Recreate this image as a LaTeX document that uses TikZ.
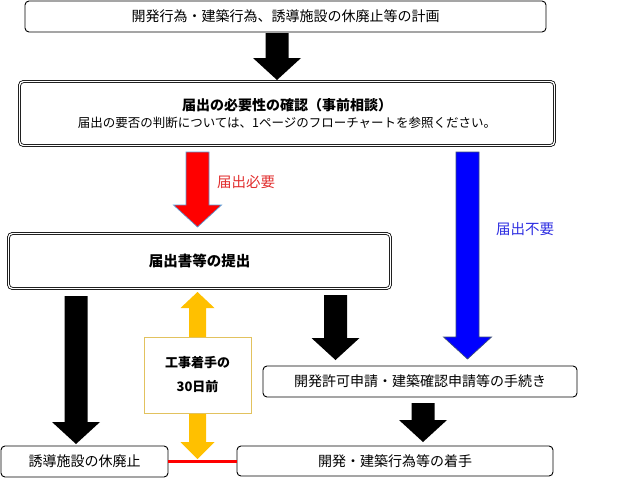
\documentclass[tikz,border=0pt]{standalone}
\usepackage{fontspec}
\setmainfont{Noto Sans CJK JP}
\usetikzlibrary{calc}
\definecolor{yel}{HTML}{FFC000}
\definecolor{yelline}{HTML}{E2C25E}
\definecolor{redline}{HTML}{5B9BD5}
\definecolor{blueline}{HTML}{3C4E7A}
\definecolor{redtext}{RGB}{225,45,45}
\definecolor{bluetext}{RGB}{45,45,225}
\newcommand{\blockarrow}[3][]{%
  \path[#1] let \p1=(#2), \p2=(#3) in
    (\x1-11.5pt,\y1) -- (\x1+11.5pt,\y1) -- (\x1+11.5pt,\y2+22pt)
    -- (\x1+24pt,\y2+22pt) -- (\x1,\y2) -- (\x1-24pt,\y2+22pt)
    -- (\x1-11.5pt,\y2+22pt) -- cycle;}
\newcommand{\twowayarrow}[3][]{%
  \path[#1] let \p1=(#2), \p2=(#3) in
    (\x1,\y1) -- (\x1+17pt,\y1-16pt) -- (\x1+8.5pt,\y1-16pt) -- (\x1+8.5pt,\y2+17pt)
    -- (\x1+17pt,\y2+17pt) -- (\x1,\y2) -- (\x1-17pt,\y2+17pt) -- (\x1-8.5pt,\y2+17pt)
    -- (\x1-8.5pt,\y1-16pt) -- (\x1-17pt,\y1-16pt) -- cycle;}
\begin{document}
\begin{tikzpicture}[x=1pt,y=-1pt,
  box/.style={draw, line width=0.9pt, rounded corners=4pt, inner sep=0pt, font=\fontsize{14}{16}\selectfont},
  dbox/.style={box, double=white, double distance=1.3pt, line width=0.8pt},
  blackarrow/.style={fill=black},
  redarrow/.style={fill=red, draw=redline, line width=0.7pt},
  bluearrow/.style={fill=blue, draw=blueline, line width=0.7pt},
  yelarrow/.style={fill=yel}]
\useasboundingbox (0,0) rectangle (629,479);
\node[box, minimum width=521pt, minimum height=31pt] (plan) at (285.5,16.5) {開発行為・建築行為、誘導施設の休廃止等の計画};
\node[dbox, minimum width=535pt, minimum height=64pt, align=center] (check) at (287,113.5)
  {{\bfseries\fontsize{14}{16}\selectfont 届出の必要性の確認（事前相談）}\\[1pt]{\fontsize{12.5}{14}\selectfont 届出の要否の判断については、1ページのフローチャートを参照ください。}};
\node[dbox, minimum width=382pt, minimum height=55pt, font=\bfseries\fontsize{14.5}{16}\selectfont] (submit) at (199.5,261) {届出書等の提出};
\node[box, minimum width=314pt, minimum height=31pt] (proc) at (420,381.5) {開発許可申請・建築確認申請等の手続き};
\node[box, minimum width=316pt, minimum height=30pt] (start) at (395,461) {開発・建築行為等の着手};
\node[box, minimum width=167pt, minimum height=31pt] (halt) at (84.5,461.5) {誘導施設の休廃止};
\node[text=redtext, font=\fontsize{14.5}{16}\selectfont] (need) at (246,182) {届出必要};
\node[text=bluetext, font=\fontsize{14.5}{16}\selectfont] (noneed) at (525,229) {届出不要};

\coordinate (a1) at (277,33);    \coordinate (b1) at (277,80);
\coordinate (a2) at (197.5,152); \coordinate (b2) at (197.5,227);
\coordinate (a3) at (467.5,152); \coordinate (b3) at (467.5,359);
\coordinate (a4) at (76,296);    \coordinate (b4) at (76,444);
\coordinate (a5) at (335.5,295); \coordinate (b5) at (335.5,360);
\coordinate (a6) at (423,403);   \coordinate (b6) at (423,442);
\coordinate (a7) at (197.5,292); \coordinate (b7) at (197.5,459);
\blockarrow[blackarrow]{a1}{b1}
\blockarrow[redarrow]{a2}{b2}
\blockarrow[bluearrow]{a3}{b3}
\blockarrow[blackarrow]{a4}{b4}
\blockarrow[blackarrow]{a5}{b5}
\blockarrow[blackarrow]{a6}{b6}
\twowayarrow[yelarrow]{a7}{b7}
\draw[red, line width=2.5pt] (halt.east) -- (halt.east -| start.west);
\node[draw=yelline, fill=white, line width=0.7pt, minimum width=107pt, minimum height=76pt, align=center,
  font=\bfseries\fontsize{13}{15}\selectfont] (days) at (197.5,375) {工事着手の\\[9pt]30日前};
\end{tikzpicture}
\end{document}
